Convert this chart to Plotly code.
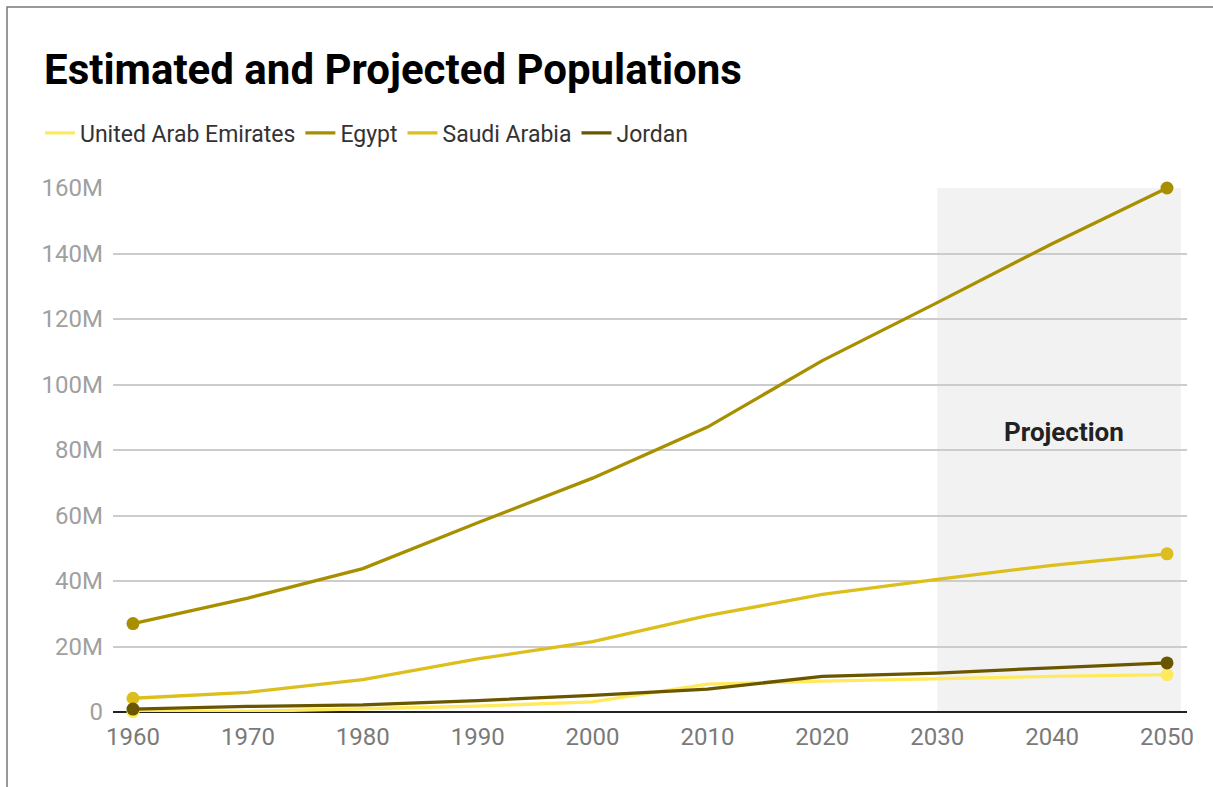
import plotly.graph_objects as go

years = [1960, 1970, 1980, 1990, 2000, 2010, 2020, 2030, 2040, 2050]
uae = [0.1, 0.2, 1.0, 1.8, 3.1, 8.5, 9.4, 10.2, 10.9, 11.4]
egypt = [27.0, 34.8, 43.8, 57.8, 71.4, 87.0, 107.3, 125.0, 143.0, 160.0]
saudi = [4.2, 6.0, 9.9, 16.2, 21.5, 29.4, 35.9, 40.5, 44.8, 48.3]
jordan = [0.9, 1.7, 2.2, 3.5, 5.1, 7.0, 10.9, 11.9, 13.5, 15.0]

names = ["United Arab Emirates", "Egypt", "Saudi Arabia", "Jordan"]
colors = ["#ffe95c", "#a88f00", "#dcbf1c", "#6b5600"]
series = [uae, egypt, saudi, jordan]

tickvals = [0, 20, 40, 60, 80, 100, 120, 140, 160]
ticktext = ["0", "20M", "40M", "60M", "80M", "100M", "120M", "140M", "160M"]

fig = go.Figure()
for name, col, vals in zip(names, colors, series):
    fig.add_trace(go.Scatter(x=years, y=vals, name=name, mode="lines", legendgroup=name,
                             line=dict(color=col, width=3.3), cliponaxis=False))
    fig.add_trace(go.Scatter(x=[years[0], years[-1]], y=[vals[0], vals[-1]],
                             mode="markers", marker=dict(color=col, size=13), legendgroup=name,
                             showlegend=False, cliponaxis=False, hoverinfo="skip"))

fig.add_shape(type="rect", xref="x", yref="paper", x0=2030, x1=2051.2, y0=0, y1=1,
              fillcolor="#f2f2f2", line_width=0, layer="below")
# outer frame
fig.add_shape(type="rect", xref="paper", yref="paper",
              x0=(7 - 113) / 1074, x1=(1230 - 113) / 1074,
              y0=(712 - 800) / 524, y1=(712 - 7) / 524,
              line=dict(color="#777", width=1.5), fillcolor="rgba(0,0,0,0)")

fig.add_annotation(x=2041, y=85.5, text="<b>Projection</b>", showarrow=False,
                   font=dict(family="Roboto", size=26, color="#222"))

fig.update_layout(
    width=1213, height=787,
    margin=dict(l=113, r=26, t=188, b=75),
    paper_bgcolor="white", plot_bgcolor="white",
    font=dict(family="Roboto", color="#333"),
    title=dict(text="<b>Estimated and Projected Populations</b>",
               xref="container", yref="container", x=44 / 1213, xanchor="left",
               y=1 - 69 / 787, yanchor="middle",
               font=dict(family="Roboto", size=42, color="#000")),
    legend=dict(orientation="h", xref="container", yref="container",
                x=40 / 1213, xanchor="left", y=1 - 133 / 787, yanchor="middle",
                font=dict(family="Roboto", size=23, color="#333"),
                bgcolor="rgba(0,0,0,0)", tracegroupgap=14, itemwidth=30),
    showlegend=True,
    xaxis=dict(range=[1958.26, 2051.74], tickvals=years, showgrid=False,
               zeroline=False, showline=False, ticks="",
               tickfont=dict(family="Roboto", size=24, color="#7a7a7a"),
               ticklabelstandoff=8),
    yaxis=dict(range=[0, 160], tickvals=tickvals, ticktext=ticktext,
               showgrid=True, gridcolor="#cccccc", gridwidth=1.5,
               zeroline=True, zerolinecolor="#222", zerolinewidth=2,
               showline=False, ticks="",
               tickfont=dict(family="Roboto", size=24, color="#a0a0a0"),
               ticklabelstandoff=9),
)

fig.write_html("out.html")
